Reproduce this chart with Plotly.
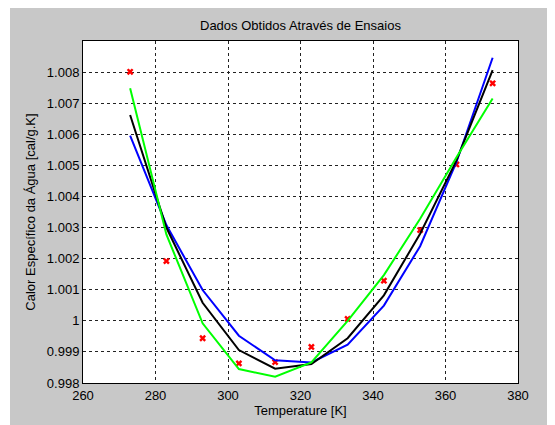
import plotly.graph_objects as go

# Data
temperature = [273, 283, 293, 303, 313, 323, 333, 343, 353, 363, 373]
measured = [1.00801, 1.00192, 0.99944, 0.99863, 0.99867, 0.99916, 1.00006, 1.00129, 1.00292, 1.00503, 1.00764]
fit_blue = [1.00596, 1.00308, 1.00099, 0.99952, 0.99873, 0.99866, 0.99923, 1.00049, 1.00240, 1.00510, 1.00846]
fit_black = [1.00662, 1.00300, 1.00058, 0.99906, 0.99846, 0.99861, 0.99944, 1.00082, 1.00280, 1.00515, 1.00806]
fit_green = [1.00748, 1.00278, 0.99992, 0.99845, 0.99820, 0.99866, 1.00000, 1.00147, 1.00328, 1.00525, 1.00715]

x_ticks = [260, 280, 300, 320, 340, 360, 380]
y_ticks = [0.998, 0.999, 1.000, 1.001, 1.002, 1.003, 1.004, 1.005, 1.006, 1.007, 1.008]
y_ticktext = ["0.998", "0.999", "1", "1.001", "1.002", "1.003", "1.004", "1.005", "1.006", "1.007", "1.008"]

FONT = "Liberation Sans, Arial, sans-serif"
FS = 13

fig = go.Figure()
fig.add_trace(go.Scatter(x=temperature, y=measured, mode="markers",
                         marker=dict(symbol="x", size=6, color="#ff0000", line=dict(width=0))))
fig.add_trace(go.Scatter(x=temperature, y=fit_blue, mode="lines", line=dict(color="#0000ff", width=2)))
fig.add_trace(go.Scatter(x=temperature, y=fit_black, mode="lines", line=dict(color="#000000", width=2)))
fig.add_trace(go.Scatter(x=temperature, y=fit_green, mode="lines", line=dict(color="#00ff00", width=2)))

# page body has an 8px margin, so the figure starts at (8, 8)
W, H = 547, 417
L, R, T, B = 75, 37, 33, 42
pw, ph = W - L - R, H - T - B

# thin white strips at top and left (window border area)
fig.add_shape(type="rect", xref="paper", yref="paper",
              x0=-L / pw - 0.1, x1=(2 - L) / pw, y0=-B / ph - 0.1, y1=(H - T) / ph + 0.1,
              fillcolor="white", line=dict(width=0), layer="below")
fig.add_shape(type="rect", xref="paper", yref="paper",
              x0=-L / pw - 0.1, x1=(W - L) / pw + 0.1, y0=(H - T - 1) / ph, y1=(H - T) / ph + 0.1,
              fillcolor="white", line=dict(width=0), layer="below")

# title as annotation for exact placement
fig.add_annotation(text="Dados Obtidos Através de Ensaios", xref="paper", yref="paper",
                   x=0.5, y=1 + (T - 17) / ph, xanchor="center", yanchor="middle",
                   showarrow=False, font=dict(family=FONT, size=FS, color="black"))

axis_common = dict(showline=True, linecolor="black", linewidth=1, mirror=True,
                   showgrid=True, gridcolor="#222222", gridwidth=1, griddash="3px,3px",
                   zeroline=False, ticks="", tickfont=dict(family=FONT, size=FS, color="black"))

fig.update_layout(
    width=W, height=H,
    margin=dict(l=L, r=R, t=T, b=B),
    paper_bgcolor="#c8c8c8",
    plot_bgcolor="white",
    showlegend=False,
    xaxis=dict(range=[260, 380], tickvals=x_ticks, ticktext=[str(v) for v in x_ticks],
               title=dict(text="Temperature [K]", font=dict(family=FONT, size=FS, color="black"), standoff=2),
               **axis_common),
    yaxis=dict(range=[0.998, 1.009], tickvals=y_ticks, ticktext=y_ticktext,
               title=dict(text="Calor Específico da Água [cal/g.K]", font=dict(family=FONT, size=FS, color="black"), standoff=8),
               **axis_common),
)

fig.write_html("out.html")
